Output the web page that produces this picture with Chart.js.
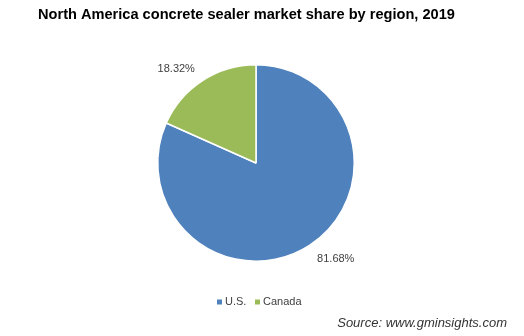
<!DOCTYPE html>
<html>
<head>
<meta charset="utf-8">
<script src="https://cdn.jsdelivr.net/npm/chart.js@4/dist/chart.umd.min.js"></script>
<style>
  html, body { margin: 0; padding: 0; background: #fff; }
  #chart { display: block; }
</style>
</head>
<body>
<canvas id="chart" width="524" height="336"></canvas>
<script>
// regions and their shares (%)
const regions = ['U.S.', 'Canada'];
const shares = [81.68, 18.32];
const colors = ['#4F81BD', '#9BBB59'];

const titleText = 'North America concrete sealer market share by region, 2019';
const sourceText = 'Source: www.gminsights.com';

// draws title, outside percent labels, legend and source line
const decorations = {
  id: 'decorations',
  afterDraw(chart) {
    const c = chart.ctx;
    c.save();

    // title
    c.fillStyle = '#000';
    c.font = 'bold 14.6px "Liberation Sans", Arial, sans-serif';
    c.textAlign = 'left';
    c.textBaseline = 'middle';
    c.fillText(titleText, 38, 15);

    // labels outside the slices
    const meta = chart.getDatasetMeta(0);
    c.font = '11px "Liberation Sans", Arial, sans-serif';
    c.fillStyle = '#404040';
    meta.data.forEach((arc, i) => {
      const p = arc.getProps(['x', 'y', 'startAngle', 'endAngle', 'outerRadius'], true);
      const mid = (p.startAngle + p.endAngle) / 2;
      const r = p.outerRadius + 14;
      const x = p.x + Math.cos(mid) * r;
      const y = p.y + Math.sin(mid) * r + (Math.sin(mid) > 0 ? 2 : 0);
      c.textAlign = Math.cos(mid) >= 0 ? 'left' : 'right';
      c.fillText(shares[i].toFixed(2) + '%', x, y);
    });

    // legend
    let lx = 217;
    const ly = 302;
    regions.forEach((name, i) => {
      c.fillStyle = colors[i];
      c.fillRect(lx, ly - 2.5, 5, 5);
      c.fillStyle = '#404040';
      c.textAlign = 'left';
      c.fillText(name, lx + 8, ly);
      lx += 38;
    });

    // source
    c.fillStyle = '#333';
    c.font = 'italic 13px "Liberation Sans", Arial, sans-serif';
    c.textAlign = 'right';
    c.fillText(sourceText, 507, 323);

    c.restore();
  }
};

new Chart(document.getElementById('chart'), {
  type: 'pie',
  data: {
    labels: regions,
    datasets: [{
      data: shares,
      backgroundColor: colors,
      borderColor: '#fff',
      borderWidth: 1.5
    }]
  },
  options: {
    responsive: false,
    animation: false,
    layout: { padding: { left: 157, right: 169, top: 64, bottom: 74 } },
    plugins: {
      legend: { display: false },
      title: { display: false },
      tooltip: { enabled: false }
    }
  },
  plugins: [decorations]
});
</script>
</body>
</html>
